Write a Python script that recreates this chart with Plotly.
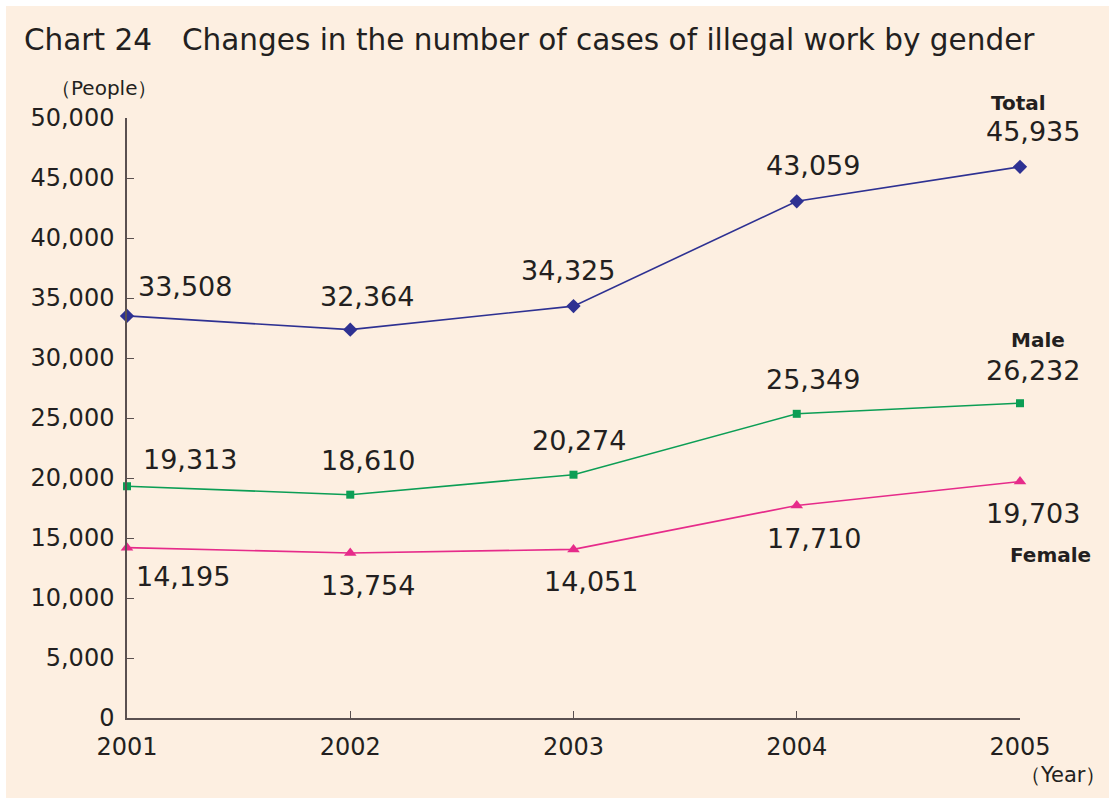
import plotly.graph_objects as go

years = [2001, 2002, 2003, 2004, 2005]
total = [33508, 32364, 34325, 43059, 45935]
male = [19313, 18610, 20274, 25349, 26232]
female = [14195, 13754, 14051, 17710, 19703]
y_ticks = [0, 5000, 10000, 15000, 20000, 25000, 30000, 35000, 40000, 45000, 50000]
y_ticktext = ["0", "5,000", "10,000", "15,000", "20,000", "25,000", "30,000", "35,000", "40,000", "45,000", "50,000"]

FONT = "DejaVu Sans"
TXT = "#231F20"
CREAM = "#FDEFE1"
W, H = 1109, 798
ML, MR, MT, MB = 127, 89, 118, 80
PW, PH = W - ML - MR, H - MT - MB

C_TOTAL = "#2E3192"
C_MALE = "#0C9E55"
C_FEMALE = "#E62B8A"

fig = go.Figure()
fig.add_trace(go.Scatter(x=years, y=total, mode="lines+markers", line=dict(color=C_TOTAL, width=1.6),
                         marker=dict(symbol="diamond", size=11, color=C_TOTAL), cliponaxis=False))
fig.add_trace(go.Scatter(x=years, y=male, mode="lines+markers", line=dict(color=C_MALE, width=1.6),
                         marker=dict(symbol="square", size=8, color=C_MALE), cliponaxis=False))
fig.add_trace(go.Scatter(x=years, y=female, mode="lines+markers", line=dict(color=C_FEMALE, width=1.6),
                         marker=dict(symbol="triangle-up", size=11, color=C_FEMALE), cliponaxis=False))

ann = []
total_off = [(58, 29), (17, 33), (-6, 36), (16, 36), (13, 35)]
male_off = [(63, 27), (18, 34), (5, 34), (16, 34), (13, 33)]
female_off = [(56, -29), (18, -33), (17, -32), (17, -33), (13, -32)]
for series, offs in ((total, total_off), (male, male_off), (female, female_off)):
    for x, v, (dx, dy) in zip(years, series, offs):
        ann.append(dict(x=x, y=v, xref="x", yref="y", text=f"{v:,}", showarrow=False,
                        xshift=dx, yshift=dy, font=dict(family=FONT, size=27, color=TXT)))
for name, series, (dx, dy) in (("Total", total, (-2, 64)), ("Male", male, (18, 63)), ("Female", female, (30, -73))):
    ann.append(dict(x=years[-1], y=series[-1], xref="x", yref="y", text=f"<b>{name}</b>", showarrow=False,
                    xshift=dx, yshift=dy, font=dict(family=FONT, size=20, color=TXT)))

ann.append(dict(x=(22 - ML) / PW, y=(718 - 40) / PH, xref="paper", yref="paper",
                text="Chart 24　Changes in the number of cases of illegal work by gender",
                showarrow=False, xanchor="left", yanchor="middle", font=dict(family=FONT, size=29.5, color=TXT)))
ann.append(dict(x=(104 - ML) / PW, y=(718 - 88) / PH, xref="paper", yref="paper", text="（People）",
                showarrow=False, xanchor="center", yanchor="middle", font=dict(family=FONT, size=20, color=TXT)))
ann.append(dict(x=(1063 - ML) / PW, y=(718 - 775) / PH, xref="paper", yref="paper", text="（Year）",
                showarrow=False, xanchor="center", yanchor="middle", font=dict(family=FONT, size=21, color=TXT)))

fig.update_layout(
    width=W, height=H,
    margin=dict(l=ML, r=MR, t=MT, b=MB, pad=0),
    paper_bgcolor="white", plot_bgcolor=CREAM,
    showlegend=False,
    annotations=ann,
    shapes=[dict(type="rect", xref="paper", yref="paper", layer="below",
                 x0=(6 - ML) / PW, x1=(W + 2 - ML) / PW, y0=(718 - H - 2) / PH, y1=(718 - 6) / PH,
                 fillcolor=CREAM, line=dict(width=0))],
    xaxis=dict(range=[2001, 2005], tickvals=years, ticktext=[str(y) for y in years], showgrid=False,
               zeroline=False, showline=True, linecolor="#5A5050", linewidth=1.5, ticks="inside", ticklen=7,
               tickcolor="#5A5050", tickfont=dict(family=FONT, size=24, color=TXT), ticklabelstandoff=6),
    yaxis=dict(range=[0, 50000], tickvals=y_ticks, ticktext=y_ticktext, showgrid=False, zeroline=False,
               showline=True, linecolor="#5A5050", linewidth=1.5, ticks="inside", ticklen=7,
               tickcolor="#5A5050", tickfont=dict(family=FONT, size=24, color=TXT), ticklabelstandoff=6),
)
fig.write_html("out.html")
